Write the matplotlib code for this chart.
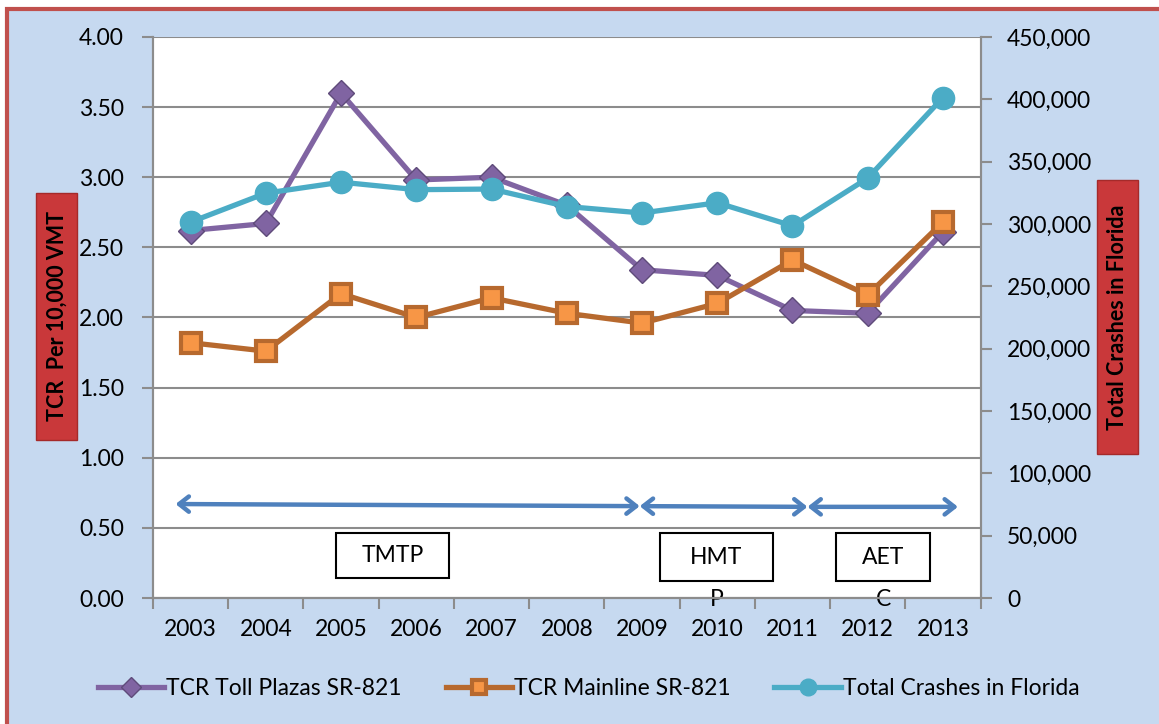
import matplotlib.pyplot as plt
from matplotlib.patches import Rectangle
from matplotlib.ticker import FuncFormatter, MultipleLocator

### data ###
years = ["2003", "2004", "2005", "2006", "2007", "2008", "2009", "2010", "2011", "2012", "2013"]
toll_plazas = [2.62, 2.67, 3.60, 2.98, 3.00, 2.80, 2.34, 2.30, 2.05, 2.03, 2.61]
mainline = [1.82, 1.76, 2.17, 2.00, 2.14, 2.03, 1.96, 2.10, 2.41, 2.16, 2.68]
crashes_fl = [301500, 324700, 333500, 327500, 328000, 314000, 308800, 317000, 298500, 336700, 401300]

periods = ["TMTP", "HMT\nP", "AET\nC"]

### styles ###
purple = "#8064A2"
orange_edge = "#B7692E"
orange_fill = "#F79646"
cyan = "#4BACC6"
blue = "#4F81BD"
bg = "#C6D9F0"
grid_col = "#8C8C8C"
fs = 16.5

plt.rcParams['font.family'] = ['Lato', 'DejaVu Sans']

fig = plt.figure(figsize=(11.59, 7.24), dpi=100)
fig.patch.set_facecolor("white")
# light blue chart area with red frame
fig.patches.append(Rectangle((0.006, -0.01), 1.0, 0.998, transform=fig.transFigure,
                             facecolor=bg, edgecolor="#C0504D", lw=3, zorder=-10))

ax = fig.add_axes([0.132, 0.174, 0.714, 0.775])
ax2 = ax.twinx()

x = list(range(len(years)))

ax.plot(x, toll_plazas, color=purple, lw=3.8, marker="D", markersize=13,
        markerfacecolor=purple, markeredgecolor="#5F4B7A", markeredgewidth=1, zorder=3,
        label="TCR Toll Plazas SR-821")
ax.plot(x, mainline, color=orange_edge, lw=3.8, marker="s", markersize=14,
        markerfacecolor=orange_fill, markeredgecolor=orange_edge, markeredgewidth=3, zorder=4,
        label="TCR Mainline SR-821")
ax2.plot(x, crashes_fl, color=cyan, lw=3.8, marker="o", markersize=16,
         markerfacecolor=cyan, markeredgecolor=cyan, zorder=5,
         label="Total Crashes in Florida")

ax.set_xlim(-0.5, 10.5)
ax.set_ylim(0, 4)
ax2.set_ylim(0, 450000)
ax.yaxis.set_major_locator(MultipleLocator(0.5))
ax2.yaxis.set_major_locator(MultipleLocator(50000))
ax.yaxis.set_major_formatter(FuncFormatter(lambda v, p: f"{v:.2f}"))
ax2.yaxis.set_major_formatter(FuncFormatter(lambda v, p: f"{int(v):,}"))

ax.set_xticks(x)
ax.set_xticklabels(years)
ax.set_xticks([i - 0.5 for i in range(len(years) + 1)], minor=True)
ax.tick_params(axis="x", which="major", length=0, pad=15, labelsize=fs)
ax.tick_params(axis="x", which="minor", length=8, width=1.5, color=grid_col)
ax.tick_params(axis="y", length=8, width=1.5, color=grid_col, pad=13, labelsize=fs)
ax2.tick_params(axis="y", length=8, width=1.5, color=grid_col, pad=11, labelsize=fs)

ax.set_facecolor("white")
ax2.patch.set_visible(False)
ax.grid(axis="y", color=grid_col, lw=1.5)
ax.set_axisbelow(True)
for a in (ax, ax2):
    for s in a.spines.values():
        s.set_color(grid_col)
        s.set_linewidth(1.5)
    a.spines["top"].set_visible(False)

# period arrows
arrow = dict(arrowstyle="<->,head_length=0.7,head_width=0.55", color=blue, lw=3.2,
             shrinkA=0, shrinkB=0)
ax.annotate("", xy=(5.97, 0.655), xytext=(-0.2, 0.67), arrowprops=arrow, zorder=6)
ax.annotate("", xy=(8.2, 0.65), xytext=(5.97, 0.655), arrowprops=arrow, zorder=6)
ax.annotate("", xy=(10.2, 0.65), xytext=(8.2, 0.65), arrowprops=arrow, zorder=6)

# period boxes (second line of text spills out below the box)
boxes = [(1.93, 0.14, 1.51, 0.32), (6.24, 0.12, 1.50, 0.34), (8.58, 0.12, 1.25, 0.34)]
for (bx, by, bw, bh), name in zip(boxes, periods):
    ax.add_patch(Rectangle((bx, by), bw, bh, facecolor="white", edgecolor="black",
                           lw=1.5, zorder=6))
    lines = name.split("\n")
    ax.text(bx + bw / 2, by + bh / 2, lines[0], ha="center", va="center", fontsize=fs, zorder=7)
    if len(lines) > 1:
        ax.text(bx + bw / 2, -0.01, lines[1], ha="center", va="center", fontsize=fs, zorder=7)

# axis title boxes
fig.patches.append(Rectangle((36 / 1159, 1 - 440 / 724), 41 / 1159, 247 / 724,
                             transform=fig.transFigure, facecolor="#C9383A",
                             edgecolor="#A52A2A", lw=1, zorder=5))
fig.text(57 / 1159, 1 - 316 / 724, "TCR  Per 10,000 VMT", rotation=90, ha="center",
         va="center", fontsize=15.5, fontweight="bold", zorder=6)
fig.patches.append(Rectangle((1097 / 1159, 1 - 454 / 724), 41 / 1159, 274 / 724,
                             transform=fig.transFigure, facecolor="#C9383A",
                             edgecolor="#A52A2A", lw=1, zorder=5))
fig.text(1118 / 1159, 1 - 317 / 724, "Total Crashes in Florida", rotation=90, ha="center",
         va="center", fontsize=15.5, fontweight="bold", zorder=6)

h1, l1 = ax.get_legend_handles_labels()
h2, l2 = ax2.get_legend_handles_labels()
fig.legend(h1 + h2, l1 + l2, loc="center", bbox_to_anchor=(0.508, 0.049), ncol=3,
           frameon=False, fontsize=fs, handlelength=2.9, handletextpad=0.1,
           columnspacing=1.9, markerscale=0.75)

fig.savefig("out.png", dpi=100, facecolor=fig.get_facecolor())
